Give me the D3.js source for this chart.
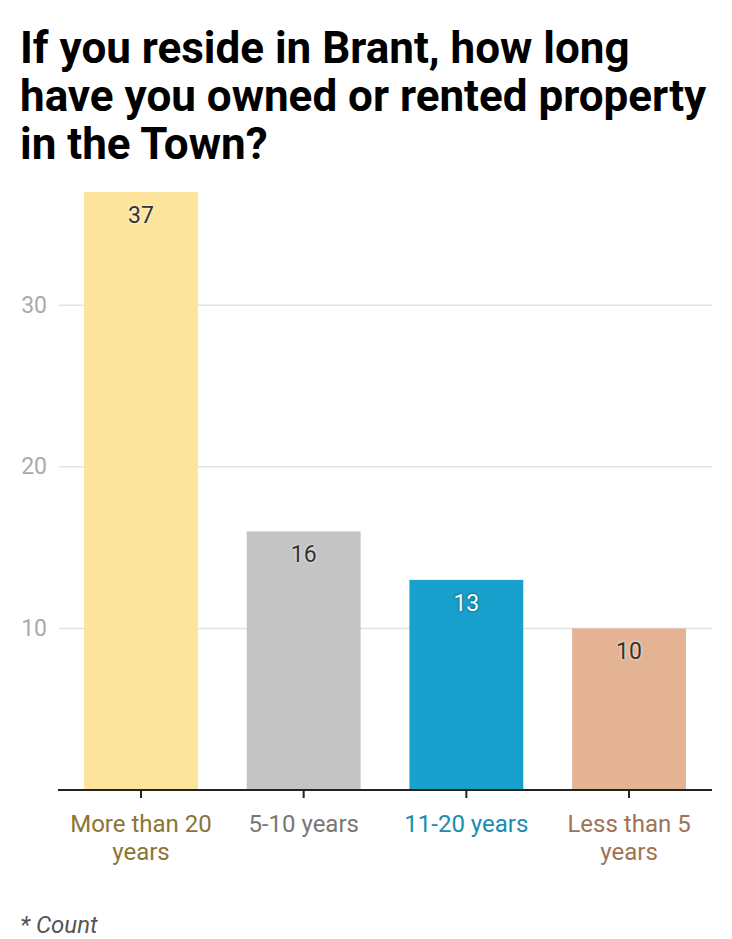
<!DOCTYPE html>
<html lang="en">
<head>
  <meta charset="UTF-8">
  <title>Brant property ownership</title>
  <script src="https://d3js.org/d3.v7.min.js"></script>
  <style>
    body { margin: 0; background: #fff; overflow: hidden; font-family: Roboto, sans-serif; }
    .title { font-size: 44px; font-weight: bold; fill: #000; }
    .tick-y { font-size: 23px; fill: #aaa; }
    .cat { font-size: 24px; }
    .val { font-size: 23px; }
    .note { font-size: 24px; font-style: italic; fill: #555; }
  </style>
</head>
<body>
<svg id="chart" width="732" height="939"></svg>
<script>
const categories = ["More than 20 years", "5-10 years", "11-20 years", "Less than 5 years"];
const catLines = [["More than 20", "years"], ["5-10 years"], ["11-20 years"], ["Less than 5", "years"]];
const counts = [37, 16, 13, 10];
const barColors = ["#fde49c", "#c4c4c4", "#18a1cd", "#e4b393"];
const labelColors = ["#8b7536", "#777777", "#1a8cb3", "#a07255"];
const yTicks = [10, 20, 30];
const titleLines = ["If you reside in Brant, how long", "have you owned or rented property", "in the Town?"];

const svg = d3.select("#chart");

// title
svg.append("text")
  .attr("class", "title")
  .selectAll("tspan")
  .data(titleLines)
  .join("tspan")
  .attr("x", 20)
  .attr("y", (d, i) => 63 + i * 48)
  .text(d => d);

const x = d3.scaleBand()
  .domain(categories)
  .range([58, 712])
  .paddingInner(0.3)
  .paddingOuter(0.16);

const y = d3.scaleLinear()
  .domain([0, 37])
  .range([790, 192]);

// gridlines + y labels
const grid = svg.append("g");
grid.selectAll("line")
  .data(yTicks)
  .join("line")
  .attr("x1", 59).attr("x2", 712)
  .attr("y1", d => y(d)).attr("y2", d => y(d))
  .attr("stroke", "#e3e3e3")
  .attr("stroke-width", 1.5);
grid.selectAll("text")
  .data(yTicks)
  .join("text")
  .attr("class", "tick-y")
  .attr("x", 47)
  .attr("y", d => y(d))
  .attr("text-anchor", "end")
  .attr("dominant-baseline", "central")
  .text(d => d);

// bars
svg.append("g").selectAll("rect")
  .data(counts)
  .join("rect")
  .attr("x", (d, i) => x(categories[i]))
  .attr("y", d => y(d))
  .attr("width", x.bandwidth())
  .attr("height", d => y(0) - y(d))
  .attr("fill", (d, i) => barColors[i]);

// value labels
svg.append("g").selectAll("text")
  .data(counts)
  .join("text")
  .attr("class", "val")
  .attr("x", (d, i) => x(categories[i]) + x.bandwidth() / 2)
  .attr("y", d => y(d) + 31)
  .attr("text-anchor", "middle")
  .attr("fill", (d, i) => i === 2 ? "#fff" : "#333")
  .style("text-shadow", (d, i) => i === 2 ? "0 0 3px rgba(0,0,0,0.6)" : "0 0 3px #fff")
  .text(d => d);

// x axis line and ticks
svg.append("line")
  .attr("x1", 58).attr("x2", 712)
  .attr("y1", 790).attr("y2", 790)
  .attr("stroke", "#222").attr("stroke-width", 2);

const xt = svg.append("g").selectAll("g")
  .data(categories)
  .join("g")
  .attr("transform", d => `translate(${x(d) + x.bandwidth() / 2},0)`);
xt.append("line")
  .attr("y1", 790).attr("y2", 798)
  .attr("stroke", "#222").attr("stroke-width", 2);
xt.append("text")
  .attr("class", "cat")
  .attr("text-anchor", "middle")
  .attr("fill", (d, i) => labelColors[i])
  .selectAll("tspan")
  .data((d, i) => catLines[i])
  .join("tspan")
  .attr("x", 0)
  .attr("y", (d, j) => 832 + j * 28)
  .text(d => d);

svg.append("text")
  .attr("class", "note")
  .attr("x", 20)
  .attr("y", 933)
  .text("* Count");
</script>
</body>
</html>
